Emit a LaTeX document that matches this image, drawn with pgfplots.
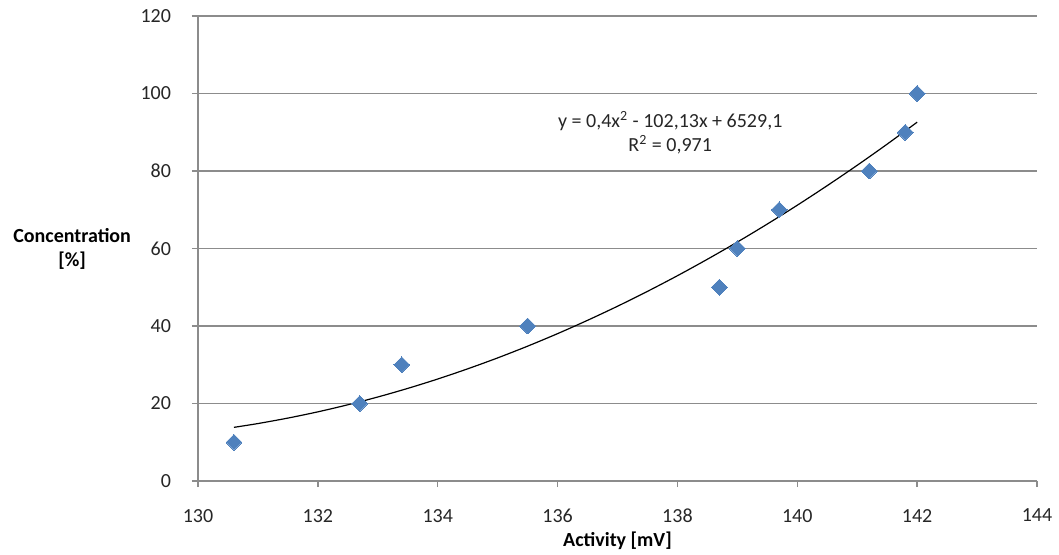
\documentclass[border=0pt]{standalone}
\usepackage{fontspec}
\setmainfont{Carlito}
\usepackage{pgfplots}
\pgfplotsset{compat=1.18}
\definecolor{ptblue}{HTML}{4F81BD}
\definecolor{gridgray}{RGB}{140,140,140}
\begin{document}
\begin{tikzpicture}
\begin{axis}[
  name=ax,
  scale only axis,
  width=419.5pt, height=232.5pt,
  xmin=130, xmax=144, ymin=0, ymax=120,
  xtick={130,132,...,144}, ytick={0,20,...,120},
  axis x line=bottom, axis y line=left,
  axis line style={gridgray, line width=0.7pt, -},
  ymajorgrids, grid style={gridgray, line width=0.7pt},
  tick align=outside, major tick length=3pt,
  tick style={gridgray, line width=0.7pt},
  /pgf/number format/assume math mode=true,
  xticklabel style={yshift=-7.5pt, text=black!85},
  yticklabel style={xshift=-7pt, text=black!85},
  every axis y label/.style={at={(axis description cs:0,0.5)}, anchor=east, xshift=-30pt, align=center, font=\bfseries},
  every axis x label/.style={at={(axis description cs:0.5,0)}, anchor=center, yshift=-30pt, font=\bfseries},
  ylabel={Concentration\\{}[\%]},
  xlabel={Activity [mV]},
  clip=false,
]
\addplot[black, line width=0.6pt, smooth, no marks] coordinates {
 (130.6,13.85) (131,14.83) (131.5,16.24) (132,17.85) (132.5,19.67) (133,21.68)
 (133.5,23.90) (134,26.32) (134.5,28.95) (135,31.77) (135.5,34.80) (136,38.03)
 (136.5,41.47) (137,45.10) (137.5,48.94) (138,52.98) (138.5,57.23) (139,61.67)
 (139.5,66.32) (140,71.17) (140.5,76.23) (141,81.48) (141.5,86.94) (142,92.60)
};
\addplot[only marks, color=ptblue, mark=square*, mark size=2.8pt, mark options={rotate=45, fill=ptblue, draw=ptblue, line width=0pt}] coordinates {
 (130.6,10) (132.7,20) (133.4,30) (135.5,40) (138.7,50) (139.0,60)
 (139.7,70) (141.2,80) (141.8,90) (142.0,100)
};
\node[align=center, text=black!85, inner sep=0pt] at (axis cs:137.88,89.8) {y = 0,4x\textsuperscript{2} - 102,13x + 6529,1\\R\textsuperscript{2} = 0,971};
\end{axis}
\pgfresetboundingbox
\path (ax.south west) ++(-99pt,-36.5pt) rectangle ++(529.5pt,277pt);
\end{tikzpicture}
\end{document}
